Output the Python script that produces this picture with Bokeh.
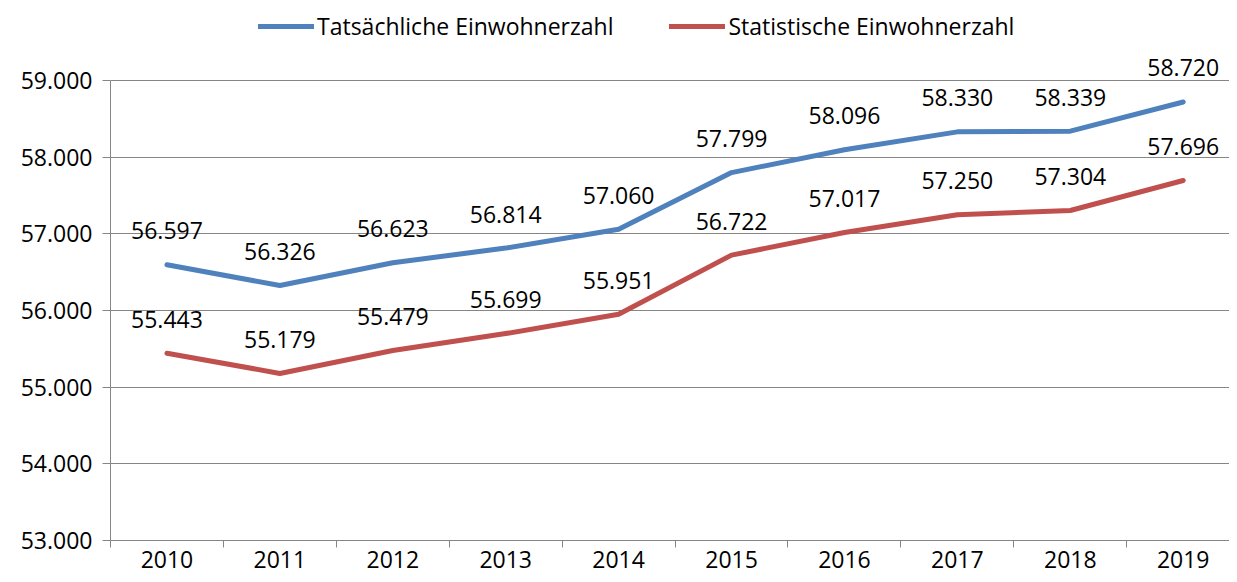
from bokeh.plotting import figure
from bokeh.models import ColumnDataSource, FixedTicker, Range1d, Legend, LegendItem
from bokeh.core.properties import value
from bokeh.embed import file_html
from bokeh.resources import INLINE

years = ["2010", "2011", "2012", "2013", "2014", "2015", "2016", "2017", "2018", "2019"]
tatsaechlich = [56597, 56326, 56623, 56814, 57060, 57799, 58096, 58330, 58339, 58720]
statistisch = [55443, 55179, 55479, 55699, 55951, 56722, 57017, 57250, 57304, 57696]
y_ticks = [53000, 54000, 55000, 56000, 57000, 58000, 59000]
series_names = ["Tatsächliche Einwohnerzahl", "Statistische Einwohnerzahl"]

FONT = "Open Sans"
FS = "23px"
BLUE = "#4F81BD"
RED = "#C0504D"
GRID = "#868686"

W, H = 1229, 574
LEFT, TOP_PAD, BOTTOM = 110, 80, 34
frame_h = H - BOTTOM                # frame spans from canvas top to axis
plot_h = frame_h - TOP_PAD          # part used by the value axis
y_lo, y_hi = y_ticks[0], y_ticks[-1]
y_top = y_hi + TOP_PAD * (y_hi - y_lo) / plot_h


def de_fmt(v):
    return f"{v:,}".replace(",", ".")


xs = [i + 0.5 for i in range(len(years))]

p = figure(width=W, height=H, output_backend="svg", toolbar_location=None,
           x_range=Range1d(0, 9.91), y_range=Range1d(y_lo, y_top),
           min_border_left=LEFT, min_border_right=0, min_border_top=0,
           min_border_bottom=BOTTOM)
p.outline_line_color = None
p.background_fill_color = "white"
p.border_fill_color = "white"

src_a = ColumnDataSource(dict(x=xs, y=tatsaechlich, lab=[de_fmt(v) for v in tatsaechlich]))
src_b = ColumnDataSource(dict(x=xs, y=statistisch, lab=[de_fmt(v) for v in statistisch]))

r_a = p.line("x", "y", source=src_a, line_color=BLUE, line_width=5, line_cap="round", line_join="round")
r_b = p.line("x", "y", source=src_b, line_color=RED, line_width=5, line_cap="round", line_join="round")

for src in (src_a, src_b):
    p.text("x", "y", text="lab", source=src, text_font=value(FONT), text_font_size=FS,
           text_color="black", text_align="center", text_baseline="middle", y_offset=-34)

# axes
p.xaxis.ticker = FixedTicker(ticks=xs, minor_ticks=list(range(0, 10)))
p.xaxis.major_label_overrides = {x: y for x, y in zip(xs, years)}
p.xaxis.major_tick_line_color = None
p.xaxis.minor_tick_line_color = GRID
p.xaxis.minor_tick_out = 7
p.xaxis.minor_tick_in = 0
p.xaxis.axis_line_color = GRID
p.xaxis.major_label_text_font = FONT
p.xaxis.major_label_text_font_size = FS
p.xaxis.major_label_text_color = "black"
p.xaxis.major_label_standoff = 3

p.yaxis.ticker = FixedTicker(ticks=y_ticks)
p.yaxis.bounds = (y_lo, y_hi)
p.yaxis.major_label_overrides = {t: de_fmt(t) for t in y_ticks}
p.yaxis.major_tick_line_color = GRID
p.yaxis.major_tick_out = 8
p.yaxis.major_tick_in = 0
p.yaxis.minor_tick_line_color = None
p.yaxis.axis_line_color = GRID
p.yaxis.major_label_text_font = FONT
p.yaxis.major_label_text_font_size = FS
p.yaxis.major_label_text_color = "black"
p.yaxis.major_label_standoff = 10

p.xgrid.grid_line_color = None
p.ygrid.grid_line_color = GRID
p.ygrid.grid_line_width = 1

legend = Legend(items=[LegendItem(label=series_names[0], renderers=[r_a]),
                       LegendItem(label=series_names[1], renderers=[r_b])],
                orientation="horizontal", location=(148, frame_h - 42),
                label_text_font=FONT, label_text_font_size=FS, label_text_color="black",
                glyph_width=56, glyph_height=24, label_standoff=3, spacing=56,
                padding=0, margin=0, border_line_color=None, background_fill_alpha=0)
p.add_layout(legend, "center")

open("out.html", "w").write(file_html(p, INLINE))
